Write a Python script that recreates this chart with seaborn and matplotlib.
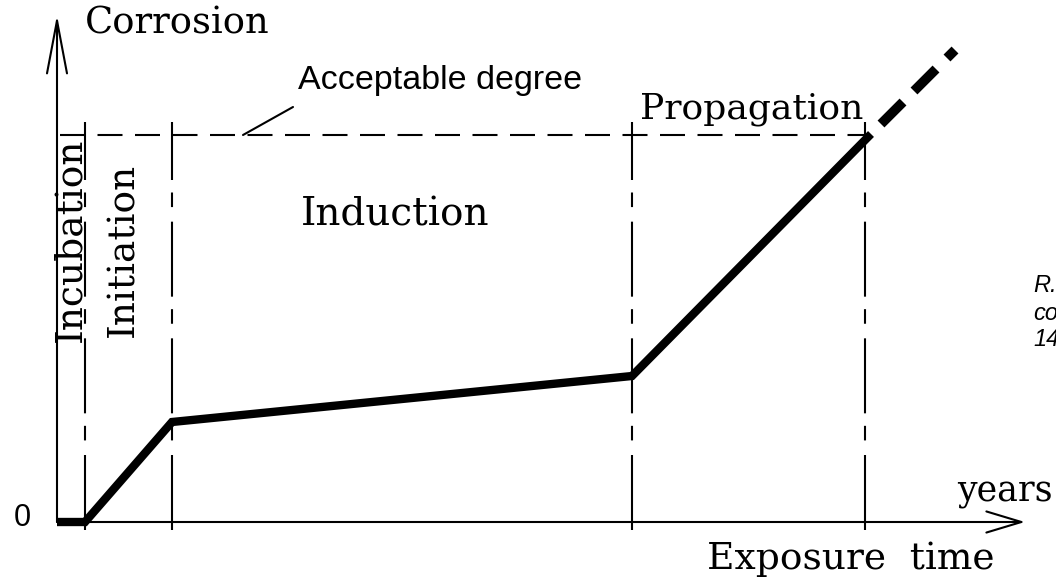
import pandas as pd
import matplotlib.pyplot as plt
import seaborn as sns

# corrosion curve (time in arbitrary units, corrosion in arbitrary units)
time_pts = [0.0, 0.28, 1.15, 5.75, 8.14]
corrosion_pts = [0.0, 0.0, 1.0, 1.46, 3.88]
# extrapolated part beyond the acceptable degree
ext_time = [8.24, 8.98]
ext_corrosion = [3.98, 4.72]

stage_bounds = [0.28, 1.15, 5.75, 8.08]
acceptable = 3.87

stage_labels = ['Incubation', 'Initiation', 'Induction', 'Propagation']

curve = pd.DataFrame({'time': time_pts, 'corrosion': corrosion_pts})
ext = pd.DataFrame({'time': ext_time, 'corrosion': ext_corrosion})

sns.set_theme(style='white')
plt.rcParams['font.family'] = ['DejaVu Serif']
plt.rcParams['text.color'] = 'black'

fig = plt.figure(figsize=(10.56, 5.79), dpi=100)
ax = fig.add_axes([0, 0, 1, 1])
ax.set_xlim(-0.57, 9.99)
ax.set_ylim(-0.57, 5.22)
ax.axis('off')

# axes with open arrow heads
ax.annotate('', xy=(0, 5.07), xytext=(0, 0),
            arrowprops=dict(arrowstyle='->,head_length=1.9,head_width=0.36',
                            lw=1.5, color='black', mutation_scale=20,
                            shrinkA=0, shrinkB=0))
ax.annotate('', xy=(9.68, 0), xytext=(0, 0),
            arrowprops=dict(arrowstyle='->,head_length=1.26,head_width=0.38',
                            lw=1.5, color='black', mutation_scale=20,
                            shrinkA=0, shrinkB=0))

# acceptable degree line
ax.hlines(acceptable, 0.03, 8.13, colors='black', lw=1.5,
          linestyles=(0, (12, 6)))
ax.plot([1.86, 2.36], [acceptable, 4.15], color='black', lw=1.5)

# stage boundaries
ax.vlines(stage_bounds, -0.08, 4.0, colors='black', lw=1.5,
          linestyles=(0, (36, 7, 7, 6)))

# corrosion curve
sns.lineplot(x='time', y='corrosion', data=curve, sort=False, color='black',
             lw=6, ax=ax, solid_joinstyle='miter', solid_capstyle='butt')
sns.lineplot(x='time', y='corrosion', data=ext, sort=False, color='black',
             lw=7, ax=ax, dashes=False, linestyle=(0, (3.2, 1.6)))

# labels
ax.text(0.28, 4.99, 'Corrosion', fontsize=26.5, ha='left', va='center')
ax.text(-0.35, 0.04, '0', fontsize=22, family='Liberation Sans', ha='center', va='center')
ax.text(9.0, 0.30, 'years', fontsize=25, ha='left', va='center')
ax.text(6.50, -0.37, 'Exposure  time', fontsize=27, ha='left', va='center')
ax.text(2.41, 4.42, 'Acceptable degree', fontsize=24.5, family='Liberation Sans',
        ha='left', va='center')

ax.text(0.13, 2.82, stage_labels[0], fontsize=27, rotation=90, ha='center', va='center')
ax.text(0.66, 2.72, stage_labels[1], fontsize=27, rotation=90, ha='center', va='center')
ax.text(3.38, 3.07, stage_labels[2], fontsize=28, ha='center', va='center')
ax.text(6.95, 4.13, stage_labels[3], fontsize=26, ha='center', va='center')

# citation fragment at the right edge
for txt, yy in zip(['R.', 'co', '14'], [2.36, 2.09, 1.82]):
    ax.text(9.76, yy, txt, fontsize=17, family='Liberation Sans', style='italic',
            ha='left', va='center')

fig.savefig('out.png', dpi=100)
